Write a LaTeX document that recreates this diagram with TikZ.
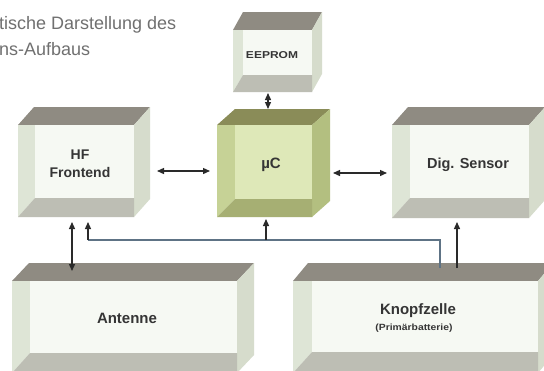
\documentclass[tikz,border=0pt]{standalone}
\usepackage{fontspec}
\setmainfont{Liberation Sans}
\usetikzlibrary{arrows.meta}
\definecolor{ntop}{HTML}{8F8B82}
\definecolor{nside}{HTML}{D6DCCC}
\definecolor{nleft}{HTML}{DEE5D6}
\definecolor{nbot}{HTML}{BDBEB4}
\definecolor{nin}{HTML}{F6F9F3}
\definecolor{gtop}{HTML}{8A8C58}
\definecolor{gside}{HTML}{B3BF80}
\definecolor{gleft}{HTML}{C6D296}
\definecolor{gbot}{HTML}{A6AF73}
\definecolor{gin}{HTML}{DEE8B8}
\definecolor{arr}{HTML}{2A2A2A}
\definecolor{pwr}{HTML}{5E7385}
\definecolor{ttl}{HTML}{707070}
\definecolor{txt}{HTML}{353535}
% #1 x0, #2 y0, #3 x1, #4 y1, #5 depth dx, #6 depth dy, #7 left bevel, #8 bottom bevel
\newcommand\cubeshape[8]{%
  \fill[cT] (#1,#2) -- (#1+#5,#2-#6) -- (#3+#5,#2-#6) -- (#3,#2) -- cycle;
  \fill[cS] (#3,#2) -- (#3+#5,#2-#6) -- (#3+#5,#4-#6) -- (#3,#4) -- cycle;
  \fill[cL] (#1,#2) -- (#1+#7,#2) -- (#1+#7,#4-#8) -- (#1,#4) -- cycle;
  \fill[cB] (#1,#4) -- (#1+#7,#4-#8) -- (#3,#4-#8) -- (#3,#4) -- cycle;
  \fill[cI] (#1+#7,#2) rectangle (#3,#4-#8);
}
\newcommand\neutralcols{\colorlet{cT}{ntop}\colorlet{cS}{nside}\colorlet{cL}{nleft}\colorlet{cB}{nbot}\colorlet{cI}{nin}}
\newcommand\greencols{\colorlet{cT}{gtop}\colorlet{cS}{gside}\colorlet{cL}{gleft}\colorlet{cB}{gbot}\colorlet{cI}{gin}}
\tikzset{
  lbl/.style={inner sep=0pt, align=center, text=txt, font=\bfseries\fontsize{14}{18}\selectfont},
  ttlstyle/.style={inner sep=0pt, anchor=base west, text=ttl, font=\fontsize{18}{22}\selectfont},
  biarr/.style={draw=arr, line width=1.3pt, {Triangle[length=7pt,width=6pt]}-{Triangle[length=7pt,width=6pt]}},
  uparr/.style={draw=arr, line width=1.3pt, -{Triangle[length=7pt,width=6pt]}},
  pwrline/.style={draw=pwr, line width=1.2pt},
}
\begin{document}
\begin{tikzpicture}[x=1pt,y=-1pt]
\useasboundingbox (0,0) rectangle (544,370);
\clip (0,0) rectangle (544,370);
\fill[white] (0,0) rectangle (544,370);
% title
\node[ttlstyle] (t1) at (-1,29.5) {tische Darstellung des};
\node[ttlstyle] (t2) at (-1,55.5) {ns-Aufbaus};
% boxes
\neutralcols
\cubeshape{233}{30}{312}{92}{10}{18}{10}{17}
\cubeshape{18}{125}{134}{217}{16}{18}{17}{19}
\cubeshape{392}{125}{529}{218}{16}{18}{18}{20}
\cubeshape{12}{281}{237}{373}{17}{18}{18}{20}
\cubeshape{293}{281}{538}{373}{15}{18}{19}{21}
\greencols
\cubeshape{217}{125}{312}{217}{18}{16}{18}{18}
% labels
\node[lbl, font=\bfseries\fontsize{10}{12}\selectfont] (eep) at (272,55) {\scalebox{1.2}[1]{EEPROM}};
\node[lbl] (hf) at (80,164) {HF\\Frontend};
\node[lbl, font=\bfseries\fontsize{15}{18}\selectfont] (uc) at (271,165) {µC};
\node[lbl, font=\bfseries\fontsize{14.5}{18}\selectfont] (ds) at (468,165) {Dig. Sensor};
\node[lbl, font=\bfseries\fontsize{15}{18}\selectfont] (ant) at (127,318) {Antenne};
\node[lbl, font=\bfseries\fontsize{15}{18}\selectfont] (kz) at (418,311) {Knopfzelle};
\node[lbl, font=\bfseries\fontsize{9}{11}\selectfont] (pb) at (414,328) {\scalebox{1.15}[1]{(Primärbatterie)}};
% connector end points
\coordinate (eepB) at (268,93);
\coordinate (ucT) at (268,109);
\coordinate (hfR) at (157,171);
\coordinate (ucL) at (210,171);
\coordinate (ucR) at (333,173);
\coordinate (dsL) at (387,173);
\coordinate (hfB) at (72,222);
\coordinate (antT) at (72,271);
\coordinate (kzA) at (440,268);
\coordinate (kzBend) at (440,240);
\coordinate (ucJ) at (266,240);
\coordinate (ucB) at (266,219);
\coordinate (hfJ) at (88,240);
\coordinate (hfB2) at (88,222);
\coordinate (kzB) at (457,268);
\coordinate (dsB) at (457,222);
% connectors
\draw[biarr] (eepB) -- (ucT);
\draw[biarr] (hfR) -- (ucL);
\draw[biarr] (ucR) -- (dsL);
\draw[biarr] (hfB) -- (antT);
\draw[pwrline] (kzA) -- (kzBend) -- (hfJ);
\draw[uparr] (hfJ) -- (hfB2);
\draw[uparr] (ucJ) -- (ucB);
\draw[uparr] (kzB) -- (dsB);
\end{tikzpicture}
\end{document}
